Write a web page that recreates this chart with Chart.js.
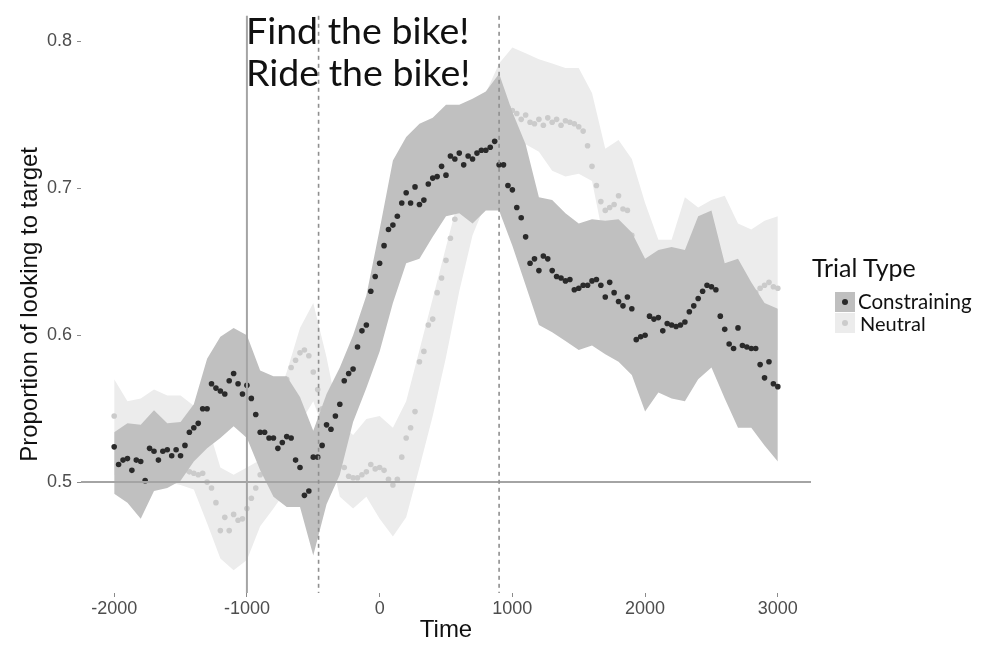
<!DOCTYPE html>
<html>
<head>
<meta charset="utf-8">
<script src="https://cdn.jsdelivr.net/npm/chart.js@4.4.1/dist/chart.umd.min.js"></script>
<style>
  body { margin: 0; background: #fff; }
  #wrap { position: relative; width: 986px; height: 645px; overflow: hidden; }
  #chart { position: absolute; left: 0; top: 0; }
  .note { position: absolute; left: 246px; font-family: Lato, sans-serif; font-size: 37.5px; line-height: 42px; color: #111; white-space: nowrap; }
  .lg { position: absolute; font-family: Lato, sans-serif; color: #111; white-space: nowrap; }
  .key { position: absolute; left: 835px; width: 20px; height: 20px; }
  .key i { position: absolute; left: 7px; top: 7px; width: 6px; height: 6px; border-radius: 50%; }
</style>
</head>
<body>
<div id="wrap">
  <canvas id="chart" width="986" height="645"></canvas>
  <div class="note" style="top:9px">Find the bike!</div>
  <div class="note" style="top:51px">Ride the bike!</div>

  <div class="lg" style="left:812px; top:252px; font-size:25px">Trial Type</div>
  <div class="key" style="top:292px; background:#bfbfbf"><i style="background:#2a2a2a"></i></div>
  <div class="key" style="top:313px; background:#ececec"><i style="background:#cbcbcb"></i></div>
  <div class="lg" style="left:858px; top:289px; font-size:20.5px">Constraining</div>
  <div class="lg" style="left:860px; top:311px; font-size:20px">Neutral</div>
</div>

<script>
// --- données ---

// proportion moyenne, un point tous les ~33 ms de -2000 à 3000
const constraining = [
  0.524, 0.512, 0.515, 0.516, 0.508, 0.515, 0.514, 0.501, 0.523, 0.521,
  0.515, 0.521, 0.522, 0.518, 0.522, 0.518, 0.525, 0.534, 0.537, 0.540,
  0.550, 0.550, 0.567, 0.564, 0.562, 0.560, 0.569, 0.574, 0.567, 0.560,
  0.566, 0.557, 0.546, 0.534, 0.534, 0.530, 0.530, 0.523, 0.527, 0.531,
  0.530, 0.515, 0.510, 0.491, 0.494, 0.517, 0.517, 0.525, 0.539, 0.536,
  0.545, 0.553, 0.569, 0.574, 0.577, 0.592, 0.603, 0.607, 0.630, 0.640,
  0.649, 0.661, 0.672, 0.675, 0.681, 0.690, 0.697, 0.690, 0.701, 0.689,
  0.692, 0.703, 0.707, 0.708, 0.715, 0.709, 0.722, 0.720, 0.724, 0.716,
  0.722, 0.720, 0.724, 0.726, 0.726, 0.728, 0.732, 0.716, 0.716, 0.702,
  0.699, 0.687, 0.680, 0.667, 0.649, 0.652, 0.644, 0.654, 0.652, 0.644,
  0.640, 0.639, 0.637, 0.638, 0.631, 0.632, 0.634, 0.634, 0.637, 0.638,
  0.634, 0.626, 0.636, 0.629, 0.623, 0.620, 0.626, 0.618, 0.597, 0.599,
  0.600, 0.613, 0.611, 0.612, 0.603, 0.608, 0.607, 0.606, 0.607, 0.609,
  0.616, 0.620, 0.625, 0.630, 0.634, 0.633, 0.631, 0.613, 0.604, 0.594,
  0.591, 0.605, 0.593, 0.592, 0.591, 0.591, 0.580, 0.571, 0.582, 0.567,
  0.565
];
const neutral = [
  0.545, 0.528, 0.530, 0.532, 0.530, 0.527, 0.529, 0.533, 0.535, 0.532,
  0.530, 0.528, 0.526, 0.524, 0.520, 0.515, 0.508, 0.507, 0.506, 0.505,
  0.506, 0.500, 0.496, 0.486, 0.467, 0.476, 0.467, 0.478, 0.474, 0.475,
  0.482, 0.489, 0.496, 0.505, 0.515, 0.525, 0.535, 0.548, 0.560, 0.570,
  0.578, 0.583, 0.588, 0.590, 0.586, 0.575, 0.563, 0.550, 0.540, 0.530,
  0.520, 0.514, 0.510, 0.504, 0.503, 0.503, 0.505, 0.507, 0.512, 0.509,
  0.510, 0.508, 0.502, 0.498, 0.502, 0.517, 0.530, 0.537, 0.548, 0.582,
  0.589, 0.607, 0.611, 0.629, 0.639, 0.651, 0.666, 0.679, 0.690, 0.700,
  0.710, 0.718, 0.725, 0.732, 0.738, 0.743, 0.748, 0.752, 0.755, 0.755,
  0.753, 0.751, 0.747, 0.750, 0.745, 0.744, 0.747, 0.743, 0.748, 0.745,
  0.747, 0.743, 0.746, 0.745, 0.744, 0.742, 0.739, 0.729, 0.715, 0.702,
  0.691, 0.685, 0.687, 0.689, 0.695, 0.686, 0.685, 0.668, 0.655, 0.648,
  0.645, 0.643, 0.641, 0.640, 0.638, 0.637, 0.636, 0.636, 0.638, 0.640,
  0.642, 0.644, 0.646, 0.647, 0.646, 0.644, 0.641, 0.638, 0.635, 0.633,
  0.631, 0.630, 0.629, 0.630, 0.628, 0.629, 0.632, 0.634, 0.636, 0.633,
  0.632
];

// bornes des rubans (intervalles), une valeur tous les 100 ms
const constrainingHigh = [
  0.534, 0.540, 0.539, 0.549, 0.540, 0.541, 0.553, 0.584, 0.599, 0.605,
  0.600, 0.576, 0.572, 0.572, 0.558, 0.535, 0.560, 0.578, 0.600, 0.627,
  0.672, 0.719, 0.735, 0.744, 0.748, 0.757, 0.757, 0.761, 0.766, 0.778,
  0.752, 0.730, 0.694, 0.692, 0.683, 0.676, 0.679, 0.678, 0.679, 0.670,
  0.652, 0.658, 0.660, 0.658, 0.681, 0.685, 0.649, 0.652, 0.636, 0.622,
  0.618
];
const constrainingLow = [
  0.492, 0.486, 0.475, 0.494, 0.496, 0.501, 0.514, 0.523, 0.530, 0.538,
  0.530, 0.508, 0.490, 0.483, 0.483, 0.450, 0.485, 0.505, 0.541, 0.564,
  0.589, 0.622, 0.649, 0.652, 0.667, 0.681, 0.683, 0.676, 0.685, 0.685,
  0.661, 0.634, 0.607, 0.602, 0.596, 0.590, 0.593, 0.587, 0.582, 0.573,
  0.548, 0.561, 0.557, 0.555, 0.570, 0.578, 0.557, 0.537, 0.537, 0.525,
  0.514
];
const neutralHigh = [
  0.570, 0.555, 0.557, 0.563, 0.559, 0.559, 0.552, 0.540, 0.510, 0.505,
  0.510, 0.515, 0.550, 0.575, 0.605, 0.622, 0.585, 0.540, 0.532, 0.543,
  0.545, 0.537, 0.555, 0.590, 0.625, 0.660, 0.695, 0.730, 0.765, 0.785,
  0.796, 0.792, 0.788, 0.785, 0.782, 0.782, 0.765, 0.727, 0.733, 0.720,
  0.690, 0.665, 0.665, 0.694, 0.687, 0.692, 0.695, 0.676, 0.672, 0.678,
  0.681
];
const neutralLow = [
  0.505, 0.500, 0.500, 0.500, 0.500, 0.498, 0.495, 0.472, 0.448, 0.440,
  0.447, 0.470, 0.482, 0.495, 0.540, 0.555, 0.530, 0.490, 0.482, 0.490,
  0.475, 0.463, 0.476, 0.510, 0.545, 0.585, 0.630, 0.668, 0.690, 0.700,
  0.715, 0.730, 0.725, 0.712, 0.708, 0.710, 0.705, 0.660, 0.640, 0.630,
  0.610, 0.610, 0.610, 0.610, 0.615, 0.615, 0.605, 0.600, 0.595, 0.590,
  0.590
];

const xTicks = [-2000, -1000, 0, 1000, 2000, 3000];
const yTicks = [0.5, 0.6, 0.7, 0.8];
const baseline = 0.5;
const solidMarks = [-1000];
const dashedMarks = [-460, 900];

// grilles de temps (échantillonnage régulier)
const times = constraining.map((_, i) => -2000 + i * 5000 / (constraining.length - 1));
const bandTimes = constrainingHigh.map((_, i) => -2000 + i * 100);
const pts = (xs, ys) => ys.map((y, i) => ({ x: xs[i], y: y }));

// lignes de repère : 0.5, début de phrase, cible
const guideLines = {
  id: 'guideLines',
  afterDatasetsDraw(chart) {
    const { ctx, chartArea: a, scales: { x, y } } = chart;
    ctx.save();
    ctx.strokeStyle = '#a4a4a4';
    ctx.lineWidth = 2;
    const yb = y.getPixelForValue(baseline);
    ctx.beginPath(); ctx.moveTo(a.left, yb); ctx.lineTo(a.right, yb); ctx.stroke();
    solidMarks.forEach(t => {
      const px = x.getPixelForValue(t);
      ctx.beginPath(); ctx.moveTo(px, a.top); ctx.lineTo(px, a.bottom); ctx.stroke();
    });
    ctx.strokeStyle = '#8f8f8f';
    ctx.lineWidth = 1.6;
    ctx.setLineDash([4, 4]);
    dashedMarks.forEach(t => {
      const px = x.getPixelForValue(t);
      ctx.beginPath(); ctx.moveTo(px, a.top); ctx.lineTo(px, a.bottom); ctx.stroke();
    });
    ctx.restore();
  }
};

const band = (data, fill, color, order) => ({
  data: data, fill: fill, backgroundColor: color, borderColor: 'transparent',
  borderWidth: 0, pointRadius: 0, tension: 0, order: order
});
const dots = (data, color, order) => ({
  data: data, showLine: false, pointRadius: 2.8, pointHoverRadius: 2.8,
  pointBackgroundColor: color, pointBorderWidth: 0, order: order
});

const tickFont = { family: 'Liberation Sans, Arial, sans-serif', size: 18 };
const titleFont = { family: 'Liberation Sans, Arial, sans-serif', size: 24 };

new Chart(document.getElementById('chart'), {
  type: 'line',
  data: {
    datasets: [
      band(pts(bandTimes, neutralHigh), '+1', '#ececec', 5),
      band(pts(bandTimes, neutralLow), false, 'transparent', 5),
      dots(pts(times, neutral), '#cbcbcb', 4),
      band(pts(bandTimes, constrainingHigh), '+1', '#c0c0c0', 3),
      band(pts(bandTimes, constrainingLow), false, 'transparent', 3),
      dots(pts(times, constraining), '#2a2a2a', 1)
    ]
  },
  options: {
    responsive: false,
    animation: false,
    layout: { padding: { left: 0, right: 175, top: 10, bottom: 0 } },
    plugins: { legend: { display: false }, tooltip: { enabled: false } },
    scales: {
      x: {
        type: 'linear', min: -2250, max: 3250,
        afterBuildTicks: s => { s.ticks = xTicks.map(v => ({ value: v })); },
        afterFit: s => { s.height = 52; },
        ticks: { font: tickFont, color: '#4d4d4d', padding: 1, maxRotation: 0, callback: v => String(v) },
        grid: { drawOnChartArea: false, tickLength: 4, color: '#8a8a8a' },
        border: { display: false },
        title: { display: true, text: 'Time', font: titleFont, color: '#111', padding: 0 }
      },
      y: {
        type: 'linear', min: 0.4245, max: 0.8175,
        afterBuildTicks: s => { s.ticks = yTicks.map(v => ({ value: v })); },
        afterFit: s => { s.width = 81; },
        ticks: { font: tickFont, color: '#4d4d4d', padding: 5, callback: v => v.toFixed(1) },
        grid: { drawOnChartArea: false, tickLength: 4, color: '#8a8a8a' },
        border: { display: false },
        title: { display: true, text: 'Proportion of looking to target', font: titleFont, color: '#111', padding: { top: 16, bottom: 0 } }
      }
    }
  },
  plugins: [guideLines]
});
</script>
</body>
</html>
